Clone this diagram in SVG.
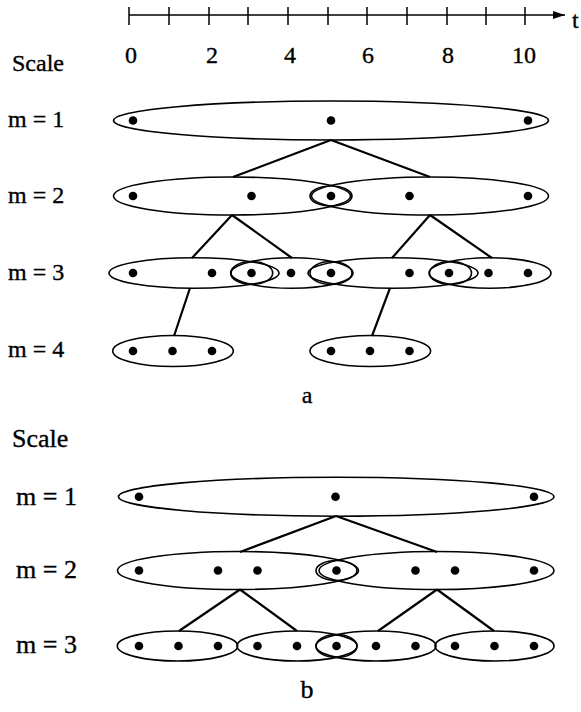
<svg xmlns="http://www.w3.org/2000/svg" width="581" height="712" viewBox="0 0 581 712">
<style>
  .ta { font-family: 'Liberation Serif', serif; font-size: 24px; fill: #000; stroke: #000; stroke-width: 0.35; }
  .tb { font-family: 'Liberation Serif', serif; font-size: 26px; fill: #000; stroke: #000; stroke-width: 0.35; }
  .mid { text-anchor: middle; }
  .ell { fill: none; stroke: #000; stroke-width: 1.6; }
  .dot { fill: #000; }
  .con line { stroke: #000; stroke-width: 2.2; }
  .axis line { stroke: #000; stroke-width: 1.5; }
</style>
<defs>
  <marker id="arr" viewBox="0 0 12 8" refX="12" refY="4" markerWidth="12" markerHeight="8" markerUnits="userSpaceOnUse" orient="auto">
    <path d="M0,0 L12,4 L0,8 Z" fill="#000"/>
  </marker>
</defs>

<g id="axis" class="axis">
  <line x1="129" y1="15" x2="565" y2="15" marker-end="url(#arr)"/>
  <line x1="129" y1="7" x2="129" y2="25"/>
  <line x1="169" y1="7" x2="169" y2="25"/>
  <line x1="209" y1="7" x2="209" y2="25"/>
  <line x1="248" y1="7" x2="248" y2="25"/>
  <line x1="288" y1="7" x2="288" y2="25"/>
  <line x1="328" y1="7" x2="328" y2="25"/>
  <line x1="367" y1="7" x2="367" y2="25"/>
  <line x1="407" y1="7" x2="407" y2="25"/>
  <line x1="447" y1="7" x2="447" y2="25"/>
  <line x1="486" y1="7" x2="486" y2="25"/>
  <line x1="525" y1="7" x2="525" y2="25"/>
  <text class="ta" x="572" y="28">t</text>
  <text class="ta mid" x="131" y="63">0</text>
  <text class="ta mid" x="212" y="63">2</text>
  <text class="ta mid" x="290" y="63">4</text>
  <text class="ta mid" x="368" y="63">6</text>
  <text class="ta mid" x="448" y="63">8</text>
  <text class="ta mid" x="524" y="63">10</text>
</g>

<g id="labels-a">
  <text class="ta" x="12" y="71">Scale</text>
  <text class="ta" x="8" y="127">m = 1</text>
  <text class="ta" x="8" y="203">m = 2</text>
  <text class="ta" x="8" y="280">m = 3</text>
  <text class="ta" x="8" y="357">m = 4</text>
  <text class="ta mid" x="307" y="403">a</text>
</g>

<g id="connectors-a" class="con">
  <line x1="331" y1="140" x2="233" y2="177"/>
  <line x1="331" y1="140" x2="430" y2="177"/>
  <line x1="232" y1="215" x2="192" y2="258"/>
  <line x1="232" y1="215" x2="292" y2="258"/>
  <line x1="430" y1="215" x2="392" y2="258"/>
  <line x1="430" y1="215" x2="492" y2="258"/>
  <line x1="190" y1="288" x2="174" y2="336"/>
  <line x1="390" y1="288" x2="372" y2="336"/>
</g>

<g id="a-m1">
  <ellipse class="ell" cx="331" cy="120.5" rx="217.5" ry="19.5"/>
  <circle class="dot" cx="133" cy="120.5" r="4.3"/>
  <circle class="dot" cx="331" cy="120.5" r="4.3"/>
  <circle class="dot" cx="528" cy="120.5" r="4.3"/>
</g>
<g id="a-m2">
  <ellipse class="ell" cx="232" cy="196" rx="118.5" ry="19"/>
  <ellipse class="ell" cx="430" cy="196" rx="118.5" ry="19"/>
  <ellipse class="ell" cx="331" cy="196" rx="21" ry="10"/>
  <circle class="dot" cx="133" cy="196" r="4.3"/>
  <circle class="dot" cx="251.5" cy="196" r="4.3"/>
  <circle class="dot" cx="331" cy="196" r="4.3"/>
  <circle class="dot" cx="409.5" cy="196" r="4.3"/>
  <circle class="dot" cx="528" cy="196" r="4.3"/>
</g>
<g id="a-m3">
  <ellipse class="ell" cx="194" cy="273" rx="85" ry="15.3"/>
  <ellipse class="ell" cx="292" cy="273" rx="61" ry="15.3"/>
  <ellipse class="ell" cx="393" cy="273" rx="85" ry="15.3"/>
  <ellipse class="ell" cx="490" cy="273" rx="61" ry="15.3"/>
  <ellipse class="ell" cx="251.7" cy="273" rx="21" ry="11.5"/>
  <ellipse class="ell" cx="331" cy="273" rx="21" ry="11.5"/>
  <ellipse class="ell" cx="450.5" cy="273" rx="21" ry="11.5"/>
  <circle class="dot" cx="133" cy="273" r="4.3"/>
  <circle class="dot" cx="212" cy="273" r="4.3"/>
  <circle class="dot" cx="251.5" cy="273" r="4.3"/>
  <circle class="dot" cx="291" cy="273" r="4.3"/>
  <circle class="dot" cx="331" cy="273" r="4.3"/>
  <circle class="dot" cx="409.5" cy="273" r="4.3"/>
  <circle class="dot" cx="449" cy="273" r="4.3"/>
  <circle class="dot" cx="488.5" cy="273" r="4.3"/>
  <circle class="dot" cx="528" cy="273" r="4.3"/>
</g>
<g id="a-m4">
  <ellipse class="ell" cx="173" cy="351" rx="60.3" ry="15.5"/>
  <ellipse class="ell" cx="370.3" cy="351" rx="60.3" ry="15.5"/>
  <circle class="dot" cx="133" cy="351" r="4.3"/>
  <circle class="dot" cx="172.5" cy="351" r="4.3"/>
  <circle class="dot" cx="212" cy="351" r="4.3"/>
  <circle class="dot" cx="331" cy="351" r="4.3"/>
  <circle class="dot" cx="370" cy="351" r="4.3"/>
  <circle class="dot" cx="409.5" cy="351" r="4.3"/>
</g>

<g id="labels-b">
  <text class="tb" x="12" y="447">Scale</text>
  <text class="tb" x="16" y="505">m = 1</text>
  <text class="tb" x="16" y="578">m = 2</text>
  <text class="tb" x="16" y="653">m = 3</text>
  <text class="tb mid" x="307" y="698">b</text>
</g>

<g id="connectors-b" class="con">
  <line x1="336" y1="516" x2="240" y2="552"/>
  <line x1="336" y1="516" x2="437" y2="552"/>
  <line x1="240" y1="589.5" x2="179" y2="631"/>
  <line x1="240" y1="589.5" x2="297" y2="631"/>
  <line x1="437" y1="589.5" x2="378" y2="631"/>
  <line x1="437" y1="589.5" x2="494" y2="631"/>
</g>

<g id="b-m1">
  <ellipse class="ell" cx="336.2" cy="496.7" rx="217.8" ry="19.5"/>
  <circle class="dot" cx="139" cy="496.7" r="4.3"/>
  <circle class="dot" cx="335.5" cy="496.7" r="4.3"/>
  <circle class="dot" cx="534" cy="496.7" r="4.3"/>
</g>
<g id="b-m2">
  <ellipse class="ell" cx="238" cy="570.5" rx="120.5" ry="19"/>
  <ellipse class="ell" cx="436.5" cy="570.5" rx="117.5" ry="19"/>
  <ellipse class="ell" cx="336.5" cy="570.5" rx="20.5" ry="10"/>
  <circle class="dot" cx="139" cy="570.5" r="4.3"/>
  <circle class="dot" cx="218" cy="570.5" r="4.3"/>
  <circle class="dot" cx="257.5" cy="570.5" r="4.3"/>
  <circle class="dot" cx="336.5" cy="570.5" r="4.3"/>
  <circle class="dot" cx="415.5" cy="570.5" r="4.3"/>
  <circle class="dot" cx="455" cy="570.5" r="4.3"/>
  <circle class="dot" cx="534" cy="570.5" r="4.3"/>
</g>
<g id="b-m3">
  <ellipse class="ell" cx="177.5" cy="646" rx="60.2" ry="15"/>
  <ellipse class="ell" cx="297" cy="646" rx="60" ry="15"/>
  <ellipse class="ell" cx="376" cy="646" rx="60" ry="15"/>
  <ellipse class="ell" cx="494.5" cy="646" rx="59.5" ry="15"/>
  <ellipse class="ell" cx="336.5" cy="646" rx="20.5" ry="11.5"/>
  <circle class="dot" cx="139" cy="646" r="4.3"/>
  <circle class="dot" cx="178.5" cy="646" r="4.3"/>
  <circle class="dot" cx="218" cy="646" r="4.3"/>
  <circle class="dot" cx="257.5" cy="646" r="4.3"/>
  <circle class="dot" cx="297" cy="646" r="4.3"/>
  <circle class="dot" cx="336.5" cy="646" r="4.3"/>
  <circle class="dot" cx="376" cy="646" r="4.3"/>
  <circle class="dot" cx="415.5" cy="646" r="4.3"/>
  <circle class="dot" cx="455" cy="646" r="4.3"/>
  <circle class="dot" cx="494.5" cy="646" r="4.3"/>
  <circle class="dot" cx="534" cy="646" r="4.3"/>
</g>
</svg>
